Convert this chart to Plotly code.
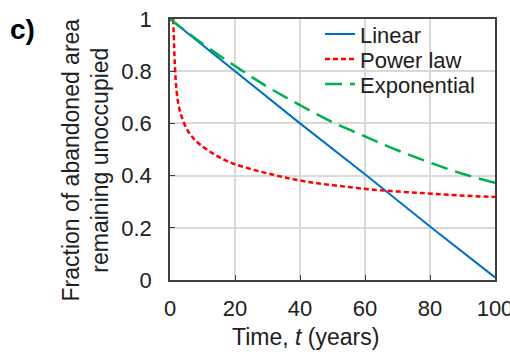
import plotly.graph_objects as go

# Data
t_lin = [0, 20, 40, 60, 80, 100]
f_lin = [1.0, 0.80, 0.60, 0.405, 0.205, 0.01]

t_pow = [1.0, 1.5, 2.05, 3.1, 5.6, 8.7, 13.8, 19.0, 31.8, 42.0, 52.3, 64.6, 77.9, 89.2, 100]
f_pow = [1.0, 0.824, 0.722, 0.645, 0.569, 0.525, 0.48, 0.448, 0.403, 0.377, 0.360, 0.344, 0.333, 0.324, 0.318]

t_exp = [0, 10, 20, 30, 40, 50, 60, 70, 80, 90, 100]
f_exp = [1.0, 0.905, 0.82, 0.74, 0.67, 0.605, 0.55, 0.497, 0.45, 0.407, 0.372]

x_ticks = [0, 20, 40, 60, 80, 100]
y_ticks = [0, 0.2, 0.4, 0.6, 0.8, 1]
y_ticktext = ["0", "0.2", "0.4", "0.6", "0.8", "1"]

FONT = "Liberation Sans, Arial, sans-serif"
TXT = "#202020"
FS = 22
FS_TITLE = 23

fig = go.Figure()
fig.add_trace(go.Scatter(x=t_lin, y=f_lin, mode="lines", name="Linear", legend="legend",
                         line=dict(color="#0070C0", width=2)))
fig.add_trace(go.Scatter(x=t_pow, y=f_pow, mode="lines", name="Power law", line_shape="spline",
                         legend="legend2",
                         line=dict(color="#FF0000", width=2.5, dash="5px,3px")))
fig.add_trace(go.Scatter(x=t_exp, y=f_exp, mode="lines", name="Exponential", line_shape="spline",
                         legend="legend3",
                         line=dict(color="#00B050", width=2.5, dash="17px,8px")))

leg_common = dict(x=0.4615, xanchor="left", yanchor="middle",
                  bgcolor="rgba(0,0,0,0)", font=dict(size=FS, color=TXT, family=FONT))
fig.update_layout(
    width=510, height=352,
    margin=dict(l=170, r=15, t=19, b=72, autoexpand=False),
    paper_bgcolor="white", plot_bgcolor="white",
    font=dict(family=FONT, size=FS, color=TXT),
    showlegend=True,
    legend=dict(y=0.942, **leg_common),
    legend2=dict(y=0.846, **leg_common),
    legend3=dict(y=0.750, **leg_common),
)
fig.update_xaxes(range=[0, 100], tickvals=x_ticks, ticks="inside", ticklen=5,
                 tickcolor="#404040", showgrid=True, gridcolor="#D9D9D9", gridwidth=1.5,
                 showline=True, linecolor="#404040", linewidth=1.5, mirror=True,
                 zeroline=False, ticklabelstandoff=8, ticklabeloverflow="allow",
                 automargin=False)
fig.update_yaxes(range=[0, 1], tickvals=y_ticks, ticktext=y_ticktext, ticks="inside",
                 ticklen=5, tickcolor="#404040", showgrid=True, gridcolor="#D9D9D9",
                 gridwidth=1.5, showline=True, linecolor="#404040", linewidth=1.5,
                 mirror=True, zeroline=False, ticklabelstandoff=12, automargin=False)

fig.add_annotation(text="Fraction of abandoned area<br>remaining unoccupied",
                   xref="paper", yref="paper", x=-0.26, y=0.46, textangle=-90,
                   xanchor="center", yanchor="middle", showarrow=False,
                   font=dict(size=FS_TITLE, family=FONT, color=TXT))
fig.add_annotation(text="Time, <i>t</i> (years)", xref="paper", yref="paper",
                   x=0.418, y=-0.218, xanchor="center", yanchor="middle", showarrow=False,
                   font=dict(size=FS_TITLE, family=FONT, color=TXT))
fig.add_annotation(text="<b>c)</b>", xref="paper", yref="paper",
                   x=-0.4975, y=0.958, xanchor="left", yanchor="middle", showarrow=False,
                   font=dict(size=28, family=FONT, color="black"))

fig.write_html("out.html")
